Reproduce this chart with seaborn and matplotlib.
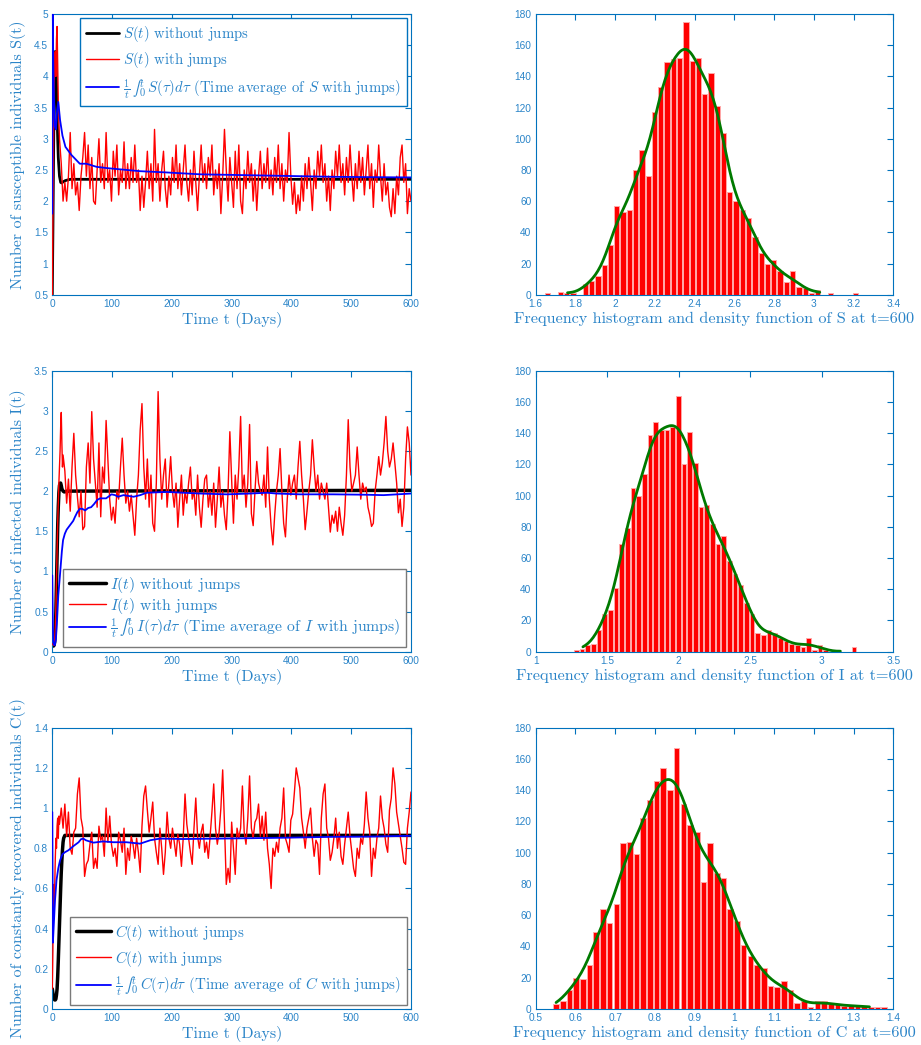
import numpy as np
import matplotlib
matplotlib.use('Agg')
import matplotlib.pyplot as plt
import seaborn as sns
from matplotlib.ticker import FuncFormatter, MultipleLocator

# ---------------- time-series data (days) ----------------
# S(t)
S_det_t = [0, 1, 2, 3, 4, 5, 6, 7, 8, 9, 10, 12, 14, 16, 18, 22, 30, 600]
S_det_v = [0.5, 1.5, 2.6, 3.6, 4.2, 4.4, 4.3, 3.9, 3.4, 3.0, 2.7, 2.4, 2.3, 2.29, 2.31, 2.33, 2.35, 2.35]
S_red_early = [0.5, 1.8, 2.9, 3.9, 4.3, 4.4, 4.0, 4.6, 4.8, 4.2, 3.6, 3.3, 3.0]   # days 0..12
S_red = [2.6, 2.0, 2.3, 2.0, 2.4, 3.1, 2.2, 2.6, 2.1, 2.3,
         1.85, 2.4, 2.7, 3.1, 2.4, 2.9, 2.2, 2.7, 2.0, 1.95,
         2.5, 3.0, 2.3, 2.6, 2.2, 3.1, 2.3, 2.5, 2.0, 2.8,
         2.4, 2.9, 2.1, 2.5, 2.3, 2.95, 2.2, 2.6, 2.2, 2.7,
         2.3, 2.9, 2.3, 2.5, 1.85, 2.4, 1.9, 2.3, 2.8, 2.2,
         2.6, 2.0, 3.15, 2.3, 2.6, 2.0, 2.5, 2.8, 2.2, 1.9,
         2.4, 2.1, 2.7, 2.3, 2.9, 2.2, 2.6, 2.1, 2.5, 2.9,
         2.3, 2.0, 2.5, 2.1, 2.8, 2.3, 1.85, 2.4, 2.9, 2.3,
         2.6, 2.2, 2.7, 2.4, 2.9, 2.1, 2.5, 2.2, 2.6, 1.8,
         2.4, 3.15, 2.5, 2.0, 2.7, 2.3, 1.9, 2.8, 2.2, 2.9,
         2.0, 1.8, 2.5, 2.2, 2.8, 2.3, 2.6, 2.0, 2.5, 1.85,
         2.4, 2.8, 2.2, 2.6, 2.3, 2.85, 2.2, 2.5, 2.1, 2.7,
         2.3, 2.9, 2.2, 2.6, 2.0, 2.5, 2.3, 3.1, 2.4, 1.95,
         2.3, 1.8, 2.1, 1.85, 2.4, 2.0, 2.6, 2.2, 2.7, 2.3,
         1.85, 2.5, 2.2, 2.8, 2.4, 2.9, 2.3, 2.6, 2.0, 2.4,
         1.85, 2.5, 2.2, 2.8, 2.4, 2.9, 2.3, 2.6, 2.1, 2.7,
         2.3, 2.9, 2.4, 2.0, 2.6, 2.2, 2.8, 2.3, 2.7, 2.1,
         2.5, 2.9, 2.2, 2.6, 1.9, 2.5, 2.3, 2.9, 2.4, 2.0,
         2.6, 2.1, 2.3, 1.9, 1.75, 2.2, 1.8, 2.4, 2.1, 2.7,
         2.9, 2.3, 2.6, 1.8, 2.2, 2.0]                                            # days 15,18,..,600
S_avg_t = [0, 0.6, 2, 4, 6, 8, 10, 13, 17, 22, 32, 46, 57, 74, 91, 113, 147, 191, 247, 303, 359, 414, 470, 526, 600]
S_avg_v = [1.8, 5.0, 4.0, 3.2, 3.15, 3.45, 3.59, 3.3, 3.05, 2.87, 2.74, 2.6, 2.6, 2.55, 2.53, 2.51, 2.48, 2.46,
           2.43, 2.42, 2.41, 2.40, 2.39, 2.385, 2.38]

# I(t)
I_det_t = [0, 1, 2, 3, 4, 5, 6, 7, 8, 9, 10, 11, 12, 13, 14, 15, 16, 18, 20, 25, 600]
I_det_v = [0.1, 0.08, 0.07, 0.08, 0.12, 0.25, 0.5, 0.85, 1.2, 1.55, 1.8, 1.98, 2.07, 2.1, 2.1, 2.07, 2.03,
           2.0, 1.99, 2.0, 2.01]
I_red_early = [0.1, 0.09, 0.08, 0.1, 0.15, 0.3, 0.55, 0.9, 1.3, 1.6, 1.85, 2.1, 2.3, 2.5, 2.8, 2.98, 2.6, 2.3]  # days 0..17
I_red = [2.45, 2.25, 1.85, 2.15, 1.75, 2.3, 2.72, 2.2, 1.93, 1.68,
         2.0, 1.52, 1.56, 2.3, 2.6, 2.1, 2.99, 2.4, 2.1, 1.8,
         2.6, 1.68, 2.3, 2.1, 2.88, 2.4, 1.9, 1.64, 1.8, 1.6,
         2.0, 1.9, 2.3, 2.66, 2.2, 1.85, 2.0, 1.75, 1.95, 1.7,
         1.45, 1.9, 2.2, 2.76, 3.09, 2.3, 1.9, 2.4, 1.8, 2.2,
         1.6, 1.5, 2.1, 3.24, 2.4, 1.9, 2.2, 2.4, 1.8, 2.1,
         2.43, 2.0, 1.8, 2.1, 1.55, 1.9, 2.2, 1.7, 2.0, 1.85,
         2.1, 2.3, 1.9, 2.0, 1.7, 2.2, 1.8, 1.55, 1.9, 2.15,
         2.2, 1.8, 2.0, 1.7, 2.1, 1.55, 1.9, 2.3, 1.8, 2.0,
         1.7, 1.52, 2.0, 2.74, 2.14, 1.6, 2.2, 1.9, 2.3, 2.93,
         2.0, 2.2, 1.8, 2.1, 2.83, 1.72, 1.57, 2.0, 2.37, 2.1,
         2.0, 1.95, 2.2, 1.8, 2.55, 1.9, 1.56, 1.33, 1.7, 2.0,
         2.2, 2.53, 2.0, 1.6, 1.43, 1.9, 2.2, 1.95, 2.1, 2.2,
         1.9, 2.3, 2.62, 2.2, 1.9, 1.52, 1.75, 2.0, 2.2, 2.64,
         2.3, 2.0, 2.2, 1.9, 2.1, 2.0, 1.9, 2.1, 1.8, 1.49,
         1.7, 1.6, 1.75, 1.5, 1.8, 1.6, 1.45, 1.7, 2.2, 2.89,
         2.3, 2.0, 2.1, 2.2, 2.55, 2.2, 1.9, 2.1, 2.0, 2.05,
         1.8, 1.7, 1.56, 1.6, 2.0, 2.2, 2.43, 2.2, 2.35, 2.6,
         2.93, 2.5, 2.3, 2.4, 2.6, 2.35, 2.1, 1.73, 1.9, 1.56,
         1.8, 2.4, 2.8, 2.6, 2.2]                                                 # days 18,21,..,600
I_avg_t = [0, 1, 2, 4, 6, 8, 10, 13, 16, 18, 21, 24, 28, 32, 35, 38, 42, 46, 50, 55, 60, 65, 70, 75, 80, 90,
           99, 105, 110, 119, 136, 147, 158, 191, 219, 247, 292, 331, 359, 375, 414, 470, 526, 554, 600]
I_avg_v = [0.95, 0.3, 0.1, 0.08, 0.15, 0.4, 0.7, 0.97, 1.25, 1.39, 1.47, 1.52, 1.56, 1.6, 1.63, 1.68, 1.74,
           1.78, 1.78, 1.76, 1.79, 1.8, 1.84, 1.89, 1.91, 1.91, 1.96, 1.95, 1.93, 1.95, 1.93, 1.95, 1.98,
           1.99, 1.98, 1.97, 1.96, 1.97, 1.98, 1.97, 1.96, 1.96, 1.955, 1.95, 1.97]

# C(t)
C_det_t = [0, 1, 2, 3, 4, 5, 6, 7, 8, 9, 10, 11, 12, 13, 14, 15, 16, 17, 18, 19, 21, 600]
C_det_v = [0.1, 0.08, 0.06, 0.05, 0.045, 0.045, 0.05, 0.07, 0.1, 0.16, 0.24, 0.33, 0.42, 0.51, 0.6, 0.68,
           0.74, 0.79, 0.83, 0.85, 0.864, 0.864]
C_red_early = [0.1, 0.3, 0.62, 0.45, 0.6, 0.75, 0.85, 0.8, 0.91, 0.95, 0.85, 0.96]   # days 0..11
C_red = [0.92, 1.0, 0.9, 1.02, 0.86, 0.98, 0.8, 0.77, 0.88, 0.9,
         1.07, 1.15, 0.95, 0.9, 0.66, 0.72, 0.74, 0.82, 0.88, 0.7,
         0.75, 0.7, 0.91, 0.84, 0.86, 0.76, 1.0, 0.83, 0.96, 0.82,
         0.76, 0.8, 0.71, 0.88, 0.84, 0.78, 0.9, 0.67, 0.8, 0.74,
         0.86, 0.82, 0.75, 0.85, 0.78, 0.68, 0.91, 1.06, 1.11, 0.99,
         0.88, 0.95, 1.03, 0.85, 0.78, 0.72, 0.9, 0.8, 0.67, 0.78,
         0.98, 0.85, 0.8, 0.9, 0.83, 0.76, 0.87, 0.82, 0.71, 0.85,
         1.07, 0.92, 0.85, 0.78, 0.72, 0.9, 1.05, 0.86, 0.8, 0.88,
         0.92, 0.78, 0.83, 0.75, 0.86, 0.98, 1.12, 0.9, 0.82, 0.88,
         1.0, 1.19, 0.92, 0.62, 0.7, 0.63, 0.93, 0.8, 0.67, 0.9,
         0.85, 0.9, 1.11, 0.88, 0.82, 0.95, 1.16, 0.9, 0.85, 0.93,
         0.95, 1.02, 0.86, 0.96, 0.84, 0.98, 0.8, 0.72, 0.6, 0.8,
         0.76, 0.83, 0.78, 0.9, 0.95, 1.1, 0.85, 0.82, 0.78, 0.94,
         0.97, 1.08, 1.2, 1.15, 1.1, 0.95, 0.88, 0.8, 0.9, 0.95,
         1.0, 0.85, 0.76, 0.84, 0.82, 0.67, 0.95, 1.07, 1.12, 0.9,
         0.85, 0.74, 0.78, 0.85, 0.95, 0.8, 0.88, 0.76, 0.72, 0.82,
         0.9, 0.98, 0.86, 0.78, 0.7, 0.66, 0.8, 0.75, 0.85, 0.82,
         0.92, 1.08, 0.95, 0.88, 0.66, 0.8, 0.75, 0.85, 0.9, 1.06,
         0.95, 0.9, 0.82, 0.78, 0.99, 1.05, 1.2, 1.12, 0.98, 0.92,
         0.86, 0.8, 0.73, 0.72, 0.9, 0.98, 1.08]                                  # days 12,15,..,600
C_avg_t = [0, 1, 3, 4.5, 7, 10, 13, 17, 21, 27, 35, 44, 48, 52, 56, 60, 69, 85, 102, 124, 147, 164, 180, 219,
           275, 330, 400, 470, 530, 600]
C_avg_v = [0.98, 0.33, 0.45, 0.54, 0.64, 0.7, 0.74, 0.77, 0.78, 0.79, 0.81, 0.83, 0.845, 0.848, 0.84, 0.836,
           0.828, 0.834, 0.83, 0.83, 0.823, 0.84, 0.848, 0.846, 0.848, 0.85, 0.853, 0.857, 0.858, 0.862]

# ---------------- histogram data (50 bins each) ----------------
S_bin_start, S_bin_width = 1.645, 0.0316
S_counts = [1, 0, 2, 1, 1, 0, 7, 9, 12, 19, 32, 57, 53, 54, 80, 93, 76, 117, 133, 149,
            151, 152, 175, 150, 152, 129, 142, 121, 104, 66, 60, 54, 49, 37, 27, 20, 22, 15, 8, 15,
            5, 4, 1, 3, 0, 1, 0, 0, 0, 1]
I_bin_start, I_bin_width = 1.265, 0.0396
I_counts = [1, 2, 4, 5, 14, 24, 27, 41, 69, 79, 105, 100, 114, 139, 147, 142, 142, 144, 164, 120,
            141, 121, 93, 94, 82, 69, 74, 58, 50, 43, 31, 24, 12, 11, 14, 12, 9, 7, 5, 4,
            3, 9, 1, 4, 1, 0, 0, 0, 0, 3]
C_bin_start, C_bin_width = 0.5428, 0.01686
C_counts = [3, 5, 12, 20, 19, 28, 49, 64, 55, 67, 106, 107, 99, 122, 134, 146, 154, 140, 167, 131,
            118, 113, 81, 106, 87, 84, 64, 56, 41, 34, 28, 26, 15, 14, 18, 12, 4, 5, 1, 5,
            5, 3, 3, 2, 2, 2, 2, 1, 1, 1]
S_kde_range = (1.76, 3.03)
I_kde_range = (1.33, 3.13)
C_kde_range = (0.55, 1.34)

# ---------------- labels ----------------
time_xlabel = 'Time t (Days)'
ylabels = ['Number of susceptible individuals S(t)',
           'Number of infected individuals I(t)',
           'Number of constantly recovered individuals C(t)']
hist_xlabels = ['Frequency histogram and density function of S at t=600',
                'Frequency histogram and density function of I at t=600',
                'Frequency histogram and density function of C at t=600']

# ---------------- style ----------------
sns.set_theme(style='white')
plt.rcParams['font.family'] = ['Liberation Sans', 'DejaVu Sans']
plt.rcParams['mathtext.fontset'] = 'cm'

AXC = '#0072BD'
TXC = '#2a84c8'
fmt = FuncFormatter(lambda v, p: f'{v:g}')

fig = plt.figure(figsize=(9.21, 10.45), dpi=100)
W, H = 921.0, 1045.0
rows = [(14, 294.7), (370.7, 651.7), (727.7, 1009)]
cols = [(52.3, 411), (535.7, 893.3)]


def make_ax(r, c):
    (t, b), (l, rr) = rows[r], cols[c]
    return fig.add_axes([l / W, 1 - b / H, (rr - l) / W, (b - t) / H])


def style(ax, xlim, xstep, ylim, ystep):
    ax.set_xlim(*xlim)
    ax.set_ylim(*ylim)
    ax.xaxis.set_major_locator(MultipleLocator(xstep))
    ax.yaxis.set_major_locator(MultipleLocator(ystep))
    ax.xaxis.set_major_formatter(fmt)
    ax.yaxis.set_major_formatter(fmt)
    for s in ax.spines.values():
        s.set_visible(True)
        s.set_color(AXC)
        s.set_linewidth(0.8)
    ax.tick_params(direction='in', top=True, right=True, length=4, width=0.8,
                   color=AXC, labelcolor=TXC, labelsize=7.3, pad=3)
    ax.grid(False)


def ts_panel(r, det_t, det_v, red_early, red_t0, red_v, avg_t, avg_v, ylim, ystep, ylabel, sym,
             loc, frame_color, black_lw, lspace, lsize):
    ax = make_ax(r, 0)
    red_t = np.concatenate([np.arange(len(red_early)), red_t0 + 3 * np.arange(len(red_v))])
    red_all = np.concatenate([red_early, red_v])
    sns.lineplot(x=det_t, y=det_v, ax=ax, color='black', linewidth=black_lw, estimator=None,
                 sort=False, legend=False, label=f'${sym}(t)$ without jumps', zorder=2)
    sns.lineplot(x=red_t, y=red_all, ax=ax, color='red', linewidth=1.0, estimator=None,
                 sort=False, legend=False, label=f'${sym}(t)$ with jumps', zorder=3)
    sns.lineplot(x=avg_t, y=avg_v, ax=ax, color='blue', linewidth=1.3, estimator=None,
                 sort=False, legend=False,
                 label=r'$\frac{1}{t}\,∫_0^{t}\,' + sym + r'(\tau)d\tau$ (Time average of $' + sym + '$ with jumps)',
                 zorder=4)
    style(ax, (0, 600), 100, ylim, ystep)
    ax.set_xlabel(time_xlabel, family='cmr10', fontsize=11.5, color=TXC, labelpad=2)
    ax.set_ylabel(ylabel, family='cmr10', fontsize=11.5, color=TXC, labelpad=6)
    leg = ax.legend(loc=loc, prop={'family': 'cmr10', 'size': lsize}, frameon=True, fancybox=False,
                    framealpha=1, edgecolor=frame_color, handlelength=2.3, handletextpad=0.25,
                    labelspacing=lspace, borderpad=0.4, borderaxespad=0.3)
    leg.get_frame().set_linewidth(1.0)
    for txt in leg.get_texts():
        txt.set_color(TXC)
    return ax


def hist_panel(r, start, width, counts, kde_range, xlim, xstep, xlabel):
    ax = make_ax(r, 1)
    edges = start + width * np.arange(len(counts) + 1)
    centers = edges[:-1] + width / 2
    samples = np.repeat(centers, counts)
    sns.histplot(x=samples, bins=edges, ax=ax, color='red', alpha=1, edgecolor='#ffa8a8',
                 linewidth=0.7, shrink=0.84, kde=True,
                 kde_kws={'clip': kde_range, 'bw_adjust': 1.0}, line_kws={'linewidth': 2})
    for ln in ax.lines:
        ln.set_color('#007a00')
        ln.set_linewidth(2)
    style(ax, xlim, xstep, (0, 180), 20)
    ax.set_ylabel('')
    ax.set_xlabel(xlabel, family='cmr10', fontsize=11.7, color=TXC, labelpad=2)
    return ax


ts_panel(0, S_det_t, S_det_v, S_red_early, 15, S_red, S_avg_t, S_avg_v, (0.5, 5), 0.5, ylabels[0], 'S',
         'upper right', AXC, 2.0, 0.42, 10.6)
ts_panel(1, I_det_t, I_det_v, I_red_early, 18, I_red, I_avg_t, I_avg_v, (0, 3.5), 0.5, ylabels[1], 'I',
         'lower right', '#7a7a7a', 2.5, 0.05, 11.3)
ts_panel(2, C_det_t, C_det_v, C_red_early, 12, C_red, C_avg_t, C_avg_v, (0, 1.4), 0.2, ylabels[2], 'C',
         'lower right', '#7a7a7a', 2.5, 0.4, 10.8)

hist_panel(0, S_bin_start, S_bin_width, S_counts, S_kde_range, (1.6, 3.4), 0.2, hist_xlabels[0])
hist_panel(1, I_bin_start, I_bin_width, I_counts, I_kde_range, (1, 3.5), 0.5, hist_xlabels[1])
hist_panel(2, C_bin_start, C_bin_width, C_counts, C_kde_range, (0.5, 1.4), 0.1, hist_xlabels[2])

fig.savefig('out.png', dpi=100)
